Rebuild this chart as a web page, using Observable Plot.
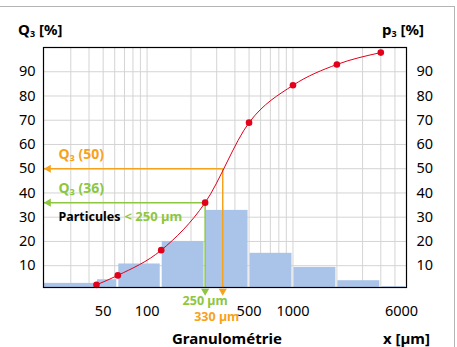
<!DOCTYPE html>
<html><head><meta charset="utf-8">
<script src="https://cdn.jsdelivr.net/npm/d3@7"></script>
<script src="https://cdn.jsdelivr.net/npm/@observablehq/plot@0.6"></script>
<style>
html,body{margin:0;padding:0;background:#fff;}
#wrap{position:relative;width:457px;height:347px;overflow:hidden;font-family:"Noto Sans",sans-serif;}
#border{position:absolute;left:-2px;top:6px;width:456px;height:400px;border-top:1px solid #b4b4b4;border-right:1px solid #b4b4b4;}
#chart{position:absolute;left:0;top:0;}
.t{position:absolute;font-weight:bold;font-size:15px;color:#000;white-space:nowrap;line-height:1;}
.t sub{font-size:9px;vertical-align:-2px;}
</style></head>
<body>
<div id="wrap">
<div id="border"></div>
<div id="chart"></div>
<div class="t" style="left:18px;top:22px">Q<sub>3</sub> [%]</div>
<div class="t" style="left:382px;top:22px">p<sub>3</sub> [%]</div>
<div class="t" style="left:172px;top:331px">Granulométrie</div>
<div class="t" style="left:383px;top:331px">x [µm]</div>
</div>
<script>
// Data
const binEdges = [19.5, 45, 63, 125, 250, 500, 1000, 2000, 4000, 6000];
const p3 = [2.7, 4.2, 10.7, 20.0, 32.8, 15.1, 9.3, 3.8, 1.3];
const sieveSizes = [45, 63, 125, 250, 500, 1000, 2000, 4000];
const Q3 = [2.1, 6.0, 16.4, 36, 69, 84.4, 93.0, 97.9];
const xTicks = [50, 100, 500, 1000];
const xEndTick = [6000];
const yTicks = [10, 20, 30, 40, 50, 60, 70, 80, 90];
const xGrid = [30, 40, 50, 60, 70, 80, 90, 100, 200, 300, 400, 500, 600, 700, 800, 900, 1000, 2000, 3000, 4000, 5000];
const xDomain = [19.5, 6000];
const yDomain = [1, 100];
const refSizes = [250, 330];
const refQ = [36, 50];
const refLabels = ["Q₃ (36)", "Q₃ (50)"];
const refSizeLabels = ["250 µm", "330 µm"];
const refColors = ["#8dc63f", "#f7a21b"];
const noteText = ["Particules", "< 250 µm"];
const noteY = [30];

const RED = "#e3001b";
const BLUE = "#a9c4e8";

const bars = p3.map((v, i) => ({x1: binEdges[i], x2: binEdges[i + 1], p: v}));
const pts = sieveSizes.map((s, i) => ({x: s, q: Q3[i]}));
const refs = refSizes.map((s, i) => ({size: s, q: refQ[i], label: refLabels[i], sizeLabel: refSizeLabels[i], color: refColors[i]}));

const chart = Plot.plot({
  width: 457, height: 347,
  marginLeft: 43, marginRight: 51, marginTop: 47, marginBottom: 60,
  x: {type: "log", domain: xDomain, axis: null},
  y: {domain: yDomain, axis: null},
  color: {type: "identity"},
  style: {fontFamily: "'Noto Sans', sans-serif", fontSize: "14px", background: "transparent", color: "#000"},
  marks: [
    Plot.ruleY(yTicks, {stroke: "#d4d4d4", strokeWidth: 1}),
    Plot.ruleX(xGrid, {stroke: "#d4d4d4", strokeWidth: 1}),
    Plot.rect(bars, {x1: "x1", x2: "x2", y1: 0, y2: "p", fill: BLUE, insetLeft: 1, insetRight: 1, clip: true}),
    Plot.link(refs, {x1: "size", x2: xDomain[0], y1: "q", y2: "q", stroke: "color", strokeWidth: 1.5}),
    Plot.link(refs, {x1: "size", x2: "size", y1: "q", y2: yDomain[0], stroke: "color", strokeWidth: 1.5}),
    Plot.dot(refs, {x: xDomain[0], y: "q", symbol: "triangle", rotate: -90, r: 3, fill: "color", dx: 5}),
    Plot.dot(refs, {x: "size", y: yDomain[0], symbol: "triangle", rotate: 180, r: 3, fill: "color", dy: 3.5}),
    Plot.line(pts, {x: "x", y: "q", stroke: RED, strokeWidth: 1, curve: "monotone-x"}),
    Plot.dot(pts, {x: "x", y: "q", r: 3.3, fill: RED}),
    Plot.frame({stroke: "#000", strokeWidth: 1.2}),
    Plot.text(yTicks, {x: xDomain[0], y: d => d, text: d => String(d), dx: -8, textAnchor: "end", fontSize: 14.5, fill: "#000"}),
    Plot.text(yTicks, {x: xDomain[1], y: d => d, text: d => String(d), dx: 10, textAnchor: "start", fontSize: 14.5, fill: "#000"}),
    Plot.text(xTicks, {x: d => d, y: yDomain[0], text: d => String(d), dy: 24, fontSize: 14.5, fill: "#000"}),
    Plot.text(xEndTick, {x: d => d, y: yDomain[0], text: d => String(d), dy: 24, dx: -5, fontSize: 14.5, fill: "#000"}),
    Plot.text(refs, {x: xDomain[0], y: "q", text: "label", fill: "color", dx: 15, dy: -14, textAnchor: "start", fontWeight: "bold", fontSize: 14}),
    Plot.text([refs[0]], {x: "size", y: yDomain[0], text: "sizeLabel", fill: "color", dy: 13.5, fontWeight: "bold", fontSize: 12.5}),
    Plot.text([refs[1]], {x: "size", y: yDomain[0], text: "sizeLabel", fill: "color", dy: 29, dx: -6, fontWeight: "bold", fontSize: 12.5}),
    Plot.text(noteY, {x: xDomain[0], y: d => d, text: () => noteText[0], fill: "#000", dx: 15, textAnchor: "start", fontWeight: "bold", fontSize: 12.5}),
    Plot.text(noteY, {x: xDomain[0], y: d => d, text: () => noteText[1], fill: refColors[0], dx: 81, textAnchor: "start", fontWeight: "bold", fontSize: 13})
  ]
});
document.getElementById("chart").appendChild(chart);
</script>
</body></html>
